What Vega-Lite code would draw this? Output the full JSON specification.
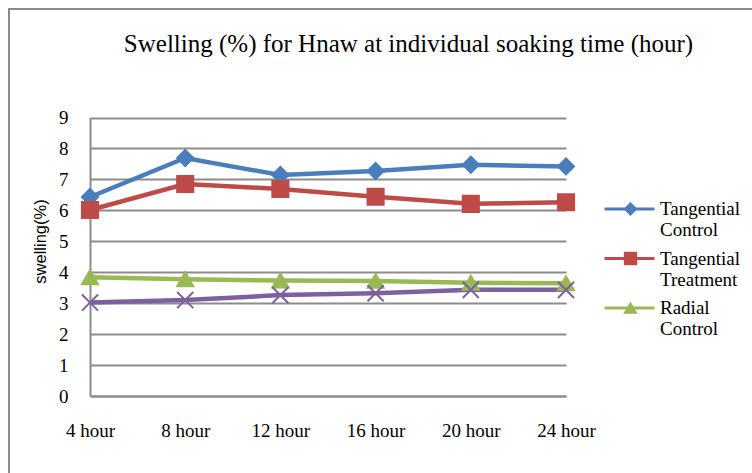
{
  "$schema": "https://vega.github.io/schema/vega-lite/v6.json",
  "width": 743,
  "height": 464,
  "autosize": "none",
  "padding": {"left": 9, "top": 9, "right": 0, "bottom": 0},
  "background": "white",
  "title": {
    "text": "Swelling (%) for Hnaw at individual soaking time (hour)",
    "font": "Liberation Serif",
    "fontSize": 25,
    "fontWeight": "normal",
    "color": "black",
    "anchor": "middle",
    "baseline": "alphabetic",
    "offset": 0,
    "dx": 28,
    "dy": 68
  },
  "data": {
    "values": [
      {"time": "4 hour", "series": "Tangential Control", "swelling": 6.43},
      {"time": "8 hour", "series": "Tangential Control", "swelling": 7.69},
      {"time": "12 hour", "series": "Tangential Control", "swelling": 7.14},
      {"time": "16 hour", "series": "Tangential Control", "swelling": 7.27},
      {"time": "20 hour", "series": "Tangential Control", "swelling": 7.47},
      {"time": "24 hour", "series": "Tangential Control", "swelling": 7.42},
      {"time": "4 hour", "series": "Tangential Treatment", "swelling": 6.01},
      {"time": "8 hour", "series": "Tangential Treatment", "swelling": 6.85},
      {"time": "12 hour", "series": "Tangential Treatment", "swelling": 6.69},
      {"time": "16 hour", "series": "Tangential Treatment", "swelling": 6.44},
      {"time": "20 hour", "series": "Tangential Treatment", "swelling": 6.21},
      {"time": "24 hour", "series": "Tangential Treatment", "swelling": 6.26},
      {"time": "4 hour", "series": "Radial Control", "swelling": 3.84},
      {"time": "8 hour", "series": "Radial Control", "swelling": 3.77},
      {"time": "12 hour", "series": "Radial Control", "swelling": 3.73},
      {"time": "16 hour", "series": "Radial Control", "swelling": 3.72},
      {"time": "20 hour", "series": "Radial Control", "swelling": 3.66},
      {"time": "24 hour", "series": "Radial Control", "swelling": 3.64},
      {"time": "4 hour", "series": "Radial Treatment", "swelling": 3.02},
      {"time": "8 hour", "series": "Radial Treatment", "swelling": 3.10},
      {"time": "12 hour", "series": "Radial Treatment", "swelling": 3.26},
      {"time": "16 hour", "series": "Radial Treatment", "swelling": 3.32},
      {"time": "20 hour", "series": "Radial Treatment", "swelling": 3.43},
      {"time": "24 hour", "series": "Radial Treatment", "swelling": 3.43}
    ]
  },
  "encoding": {
    "x": {
      "field": "time",
      "type": "ordinal",
      "sort": ["4 hour", "8 hour", "12 hour", "16 hour", "20 hour", "24 hour"],
      "scale": {"type": "point", "range": [81, 557], "padding": 0},
      "axis": {
        "title": null,
        "offset": -77,
        "labelAngle": 0,
        "labelBaseline": "alphabetic",
        "labelPadding": 40,
        "ticks": false,
        "tickSize": 0,
        "grid": false,
        "domainColor": "#8c8c8c",
        "domainWidth": 2
      }
    },
    "y": {
      "field": "swelling",
      "type": "quantitative",
      "scale": {"domain": [0, 9], "range": [387, 108.5], "nice": false, "zero": true},
      "axis": {
        "title": "swelling(%)",
        "offset": -81,
        "values": [0, 1, 2, 3, 4, 5, 6, 7, 8, 9],
        "ticks": false,
        "tickSize": 0,
        "labelPadding": 22,
        "grid": true,
        "gridColor": "#8c8c8c",
        "gridWidth": 1.8,
        "domainColor": "#8c8c8c",
        "domainWidth": 2,
        "titleFont": "Liberation Sans",
        "titleFontSize": 16.5,
        "titleFontWeight": "normal",
        "titleColor": "black",
        "titleAngle": -90,
        "titleAlign": "center",
        "titleBaseline": "middle",
        "titleX": -50,
        "titleY": 232
      }
    }
  },
  "layer": [
    {
      "mark": {"type": "line", "strokeWidth": 4.5},
      "encoding": {
        "color": {
          "field": "series",
          "type": "nominal",
          "scale": {
            "domain": ["Tangential Control", "Tangential Treatment", "Radial Control", "Radial Treatment"],
            "range": ["#4a7ebb", "#be4b48", "#98b954", "#7d60a0"]
          },
          "legend": {
            "orient": "none",
            "legendX": 611,
            "legendY": 190.5,
            "title": null,
            "values": ["Tangential Control", "Tangential Treatment", "Radial Control"],
            "padding": 0,
            "rowPadding": 8.5,
            "symbolType": "M-4,0H4",
            "symbolSize": 156.25,
            "symbolStrokeWidth": 3,
            "labelOffset": 21,
            "labelFont": "Liberation Serif",
            "labelFontSize": 19,
            "labelLineHeight": 21,
            "labelColor": "black",
            "labelLimit": 0,
            "labelExpr": "split(datum.label, ' ')"
          }
        }
      }
    },
    {
      "mark": {"type": "point", "filled": true, "size": 260, "strokeWidth": 2, "opacity": 1},
      "encoding": {
        "shape": {
          "field": "series",
          "type": "nominal",
          "scale": {
            "domain": ["Tangential Control", "Tangential Treatment", "Radial Control", "Radial Treatment"],
            "range": ["diamond", "square", "triangle-up", "M-1,-1L1,1M1,-1L-1,1"]
          },
          "legend": {
            "orient": "none",
            "legendX": 612,
            "legendY": 190.5,
            "title": null,
            "values": ["Tangential Control", "Tangential Treatment", "Radial Control"],
            "padding": 0,
            "rowPadding": 8.5,
            "symbolSize": 140,
            "symbolStrokeWidth": 1.5,
            "labelOffset": 21,
            "labelFont": "Liberation Serif",
            "labelFontSize": 19,
            "labelLineHeight": 21,
            "labelOpacity": 0,
            "labelLimit": 0,
            "labelExpr": "split(datum.label, ' ')"
          }
        },
        "fill": {
          "field": "series",
          "type": "nominal",
          "scale": {
            "domain": ["Tangential Control", "Tangential Treatment", "Radial Control", "Radial Treatment"],
            "range": ["#4a7ebb", "#be4b48", "#98b954", "#7d60a0"]
          }
        },
        "stroke": {
          "field": "series",
          "type": "nominal",
          "scale": {
            "domain": ["Tangential Control", "Tangential Treatment", "Radial Control", "Radial Treatment"],
            "range": ["#4a7ebb", "#be4b48", "#98b954", "#7d60a0"]
          }
        }
      }
    }
  ],
  "resolve": {
    "legend": {"color": "independent", "shape": "independent", "fill": "independent", "stroke": "independent"}
  },
  "config": {
    "view": {"stroke": "#8a8a8a", "strokeWidth": 2, "strokeDash": [743, 1207, 464]},
    "axis": {
      "labelFont": "Liberation Serif",
      "labelFontSize": 19,
      "labelColor": "black"
    }
  }
}
